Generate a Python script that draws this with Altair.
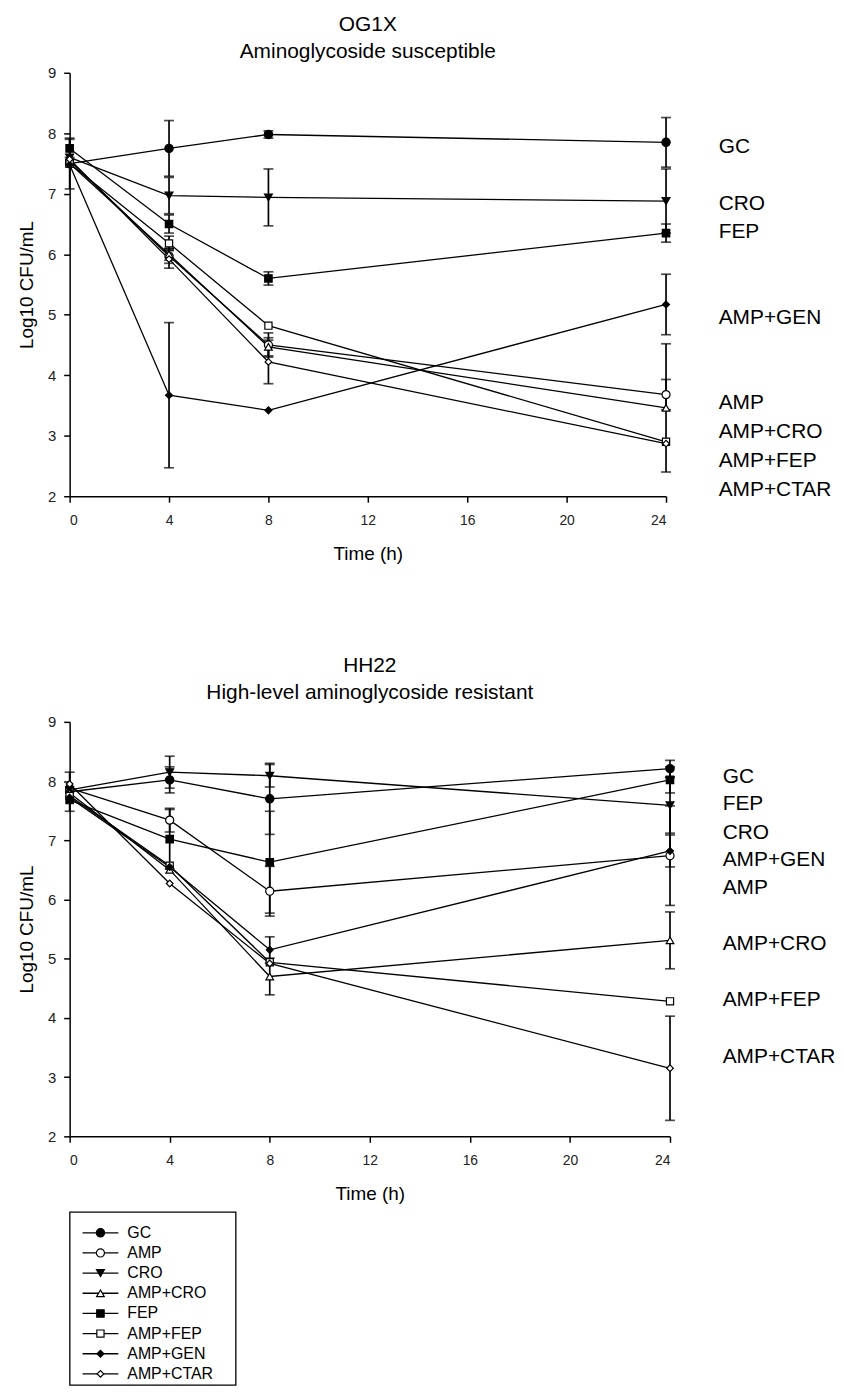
import altair as alt
import pandas as pd

FONT = "Liberation Sans"

times = [0, 4, 8, 24]
series_names = ["GC", "AMP", "CRO", "AMP+CRO", "FEP", "AMP+FEP", "AMP+GEN", "AMP+CTAR"]

# ---- OG1X (aminoglycoside susceptible) : log10 CFU/mL at 0, 4, 8, 24 h ----
og1x_gc = [7.50, 7.75, 7.98, 7.85]
og1x_gc_err = [0.42, 0.46, 0.06, 0.41]
og1x_amp = [7.55, 5.97, 4.50, 3.68]
og1x_amp_err = [0.0, 0.12, 0.20, 0.25]
og1x_cro = [7.60, 6.97, 6.94, 6.88]
og1x_cro_err = [0.0, 0.30, 0.47, 0.53]
og1x_ampcro = [7.50, 6.00, 4.47, 3.46]
og1x_ampcro_err = [0.0, 0.10, 0.15, 1.06]
og1x_fep = [7.75, 6.50, 5.60, 6.35]
og1x_fep_err = [0.15, 0.15, 0.11, 0.15]
og1x_ampfep = [7.50, 6.18, 4.82, 2.90]
og1x_ampfep_err = [0.0, 0.12, 0.0, 0.0]
og1x_ampgen = [7.48, 3.67, 3.42, 5.17]
og1x_ampgen_err = [0.0, 1.20, 0.0, 0.50]
og1x_ampctar = [7.57, 5.92, 4.22, 2.87]
og1x_ampctar_err = [0.0, 0.15, 0.36, 0.0]

# ---- HH22 (high-level aminoglycoside resistant) ----
hh22_gc = [7.82, 8.02, 7.70, 8.21]
hh22_gc_err = [0.33, 0.22, 0.60, 0.14]
hh22_amp = [7.88, 7.34, 6.14, 6.74]
hh22_amp_err = [0.0, 0.20, 0.42, 0.84]
hh22_cro = [7.85, 8.15, 8.09, 7.59]
hh22_cro_err = [0.0, 0.27, 0.19, 0.47]
hh22_ampcro = [7.80, 6.50, 4.70, 5.31]
hh22_ampcro_err = [0.0, 0.0, 0.31, 0.48]
hh22_fep = [7.68, 7.02, 6.63, 8.02]
hh22_fep_err = [0.0, 0.50, 0.86, 0.22]
hh22_ampfep = [7.75, 6.57, 4.94, 4.28]
hh22_ampfep_err = [0.0, 0.0, 0.0, 0.0]
hh22_ampgen = [7.72, 6.55, 5.15, 6.82]
hh22_ampgen_err = [0.0, 0.0, 0.22, 0.27]
hh22_ampctar = [7.95, 6.27, 4.92, 3.15]
hh22_ampctar_err = [0.0, 0.0, 0.0, 0.88]

# right-hand series labels (order and vertical position in log10 units)
og1x_label_order = ["GC", "CRO", "FEP", "AMP+GEN", "AMP", "AMP+CRO", "AMP+FEP", "AMP+CTAR"]
og1x_label_pos = [7.78, 6.83, 6.36, 4.94, 3.54, 3.06, 2.585, 2.11]
hh22_label_order = ["GC", "FEP", "CRO", "AMP+GEN", "AMP", "AMP+CRO", "AMP+FEP", "AMP+CTAR"]
hh22_label_pos = [8.07, 7.61, 7.12, 6.66, 6.19, 5.24, 4.30, 3.34]

# marker styling
shape_range = ["circle", "circle", "triangle-down", "triangle-up", "square", "square", "diamond", "diamond"]
fill_range = ["black", "white", "black", "white", "black", "white", "black", "white"]
size_range = [70, 45, 85, 85, 105, 95, 200, 210]


def build_df(vals, errs):
    rows = []
    for name, v, e in zip(series_names, vals, errs):
        for t, vv, ee in zip(times, v, e):
            rows.append({"series": name, "time": t, "value": vv, "err": ee})
    return pd.DataFrame(rows)


og1x_df = build_df(
    [og1x_gc, og1x_amp, og1x_cro, og1x_ampcro, og1x_fep, og1x_ampfep, og1x_ampgen, og1x_ampctar],
    [og1x_gc_err, og1x_amp_err, og1x_cro_err, og1x_ampcro_err, og1x_fep_err, og1x_ampfep_err,
     og1x_ampgen_err, og1x_ampctar_err],
)
hh22_df = build_df(
    [hh22_gc, hh22_amp, hh22_cro, hh22_ampcro, hh22_fep, hh22_ampfep, hh22_ampgen, hh22_ampctar],
    [hh22_gc_err, hh22_amp_err, hh22_cro_err, hh22_ampcro_err, hh22_fep_err, hh22_ampfep_err,
     hh22_ampgen_err, hh22_ampctar_err],
)

shape_enc = alt.Shape("series:N", scale=alt.Scale(domain=series_names, range=shape_range), legend=None)
fill_enc = alt.Fill("series:N", scale=alt.Scale(domain=series_names, range=fill_range), legend=None)
size_enc = alt.Size("series:N", scale=alt.Scale(domain=series_names, range=size_range), legend=None)

Y_TITLE = "Log10 CFU/mL"


def panel(df, label_order, label_pos, title, subtitle, width, height, title_offset):
    x = alt.X("time:Q", scale=alt.Scale(domain=[0, 24], nice=False, zero=False),
              axis=alt.Axis(values=[0, 4, 8, 12, 16, 20, 24], title="Time (h)"))
    y = alt.Y("value:Q", scale=alt.Scale(domain=[2, 9], nice=False, zero=False),
              axis=alt.Axis(values=list(range(2, 10)), format="d", title=Y_TITLE))
    base = alt.Chart(df)
    lines = base.mark_line(color="black", strokeWidth=1.3).encode(
        x=x, y=y, detail="series:N", order="time:Q")
    errd = base.transform_filter("datum.err > 0").transform_calculate(
        lo="datum.value - datum.err", hi="datum.value + datum.err")
    bars = errd.mark_rule(color="black", strokeWidth=1.7).encode(
        x="time:Q", y="lo:Q", y2="hi:Q")
    cap_lo = errd.mark_tick(color="black", thickness=1.7, size=10, orient="horizontal").encode(
        x="time:Q", y="lo:Q")
    cap_hi = errd.mark_tick(color="black", thickness=1.7, size=10, orient="horizontal").encode(
        x="time:Q", y="hi:Q")
    pts = base.mark_point(filled=True, opacity=1, stroke="black", strokeWidth=1.2).encode(
        x="time:Q", y="value:Q", shape=shape_enc, fill=fill_enc, size=size_enc)
    lab_df = pd.DataFrame({"label": label_order, "pos": label_pos, "time": [24] * len(label_order)})
    labels = alt.Chart(lab_df).mark_text(align="left", baseline="middle", dx=53, fontSize=21,
                                         font=FONT, color="black").encode(
        x="time:Q", y="pos:Q", text="label:N")
    return alt.layer(lines, bars, cap_lo, cap_hi, pts, labels).properties(
        width=width, height=height,
        title=alt.TitleParams(text=title, subtitle=subtitle, fontSize=21, subtitleFontSize=21,
                              font=FONT, subtitleFont=FONT, fontWeight="normal",
                              color="black", subtitleColor="black", anchor="middle",
                              subtitlePadding=6, offset=title_offset),
    )


top = panel(og1x_df, og1x_label_order, og1x_label_pos, "OG1X", "Aminoglycoside susceptible", 600, 426, 4)
bottom = panel(hh22_df, hh22_label_order, hh22_label_pos, "HH22", "High-level aminoglycoside resistant",
               604, 417, 12)

# ---- custom legend box ----
leg_df = pd.DataFrame({"series": series_names})
leg_y = alt.Y("series:N", scale=alt.Scale(type="point", domain=series_names, range=[21, 163], padding=0),
              axis=alt.Axis(labels=False, ticks=False, domain=False, title=Y_TITLE, titleOpacity=0))
leg_base = alt.Chart(leg_df)
leg_rule = leg_base.mark_rule(color="black", strokeWidth=1.3).encode(
    x=alt.value(13), x2=alt.value(49), y=leg_y)
leg_pts = leg_base.mark_point(filled=True, opacity=1, stroke="black", strokeWidth=1.2).encode(
    x=alt.value(31), y=alt.Y("series:N"), shape=shape_enc, fill=fill_enc, size=size_enc)
leg_txt = leg_base.mark_text(align="left", baseline="middle", fontSize=16, font=FONT, color="black").encode(
    x=alt.value(58), y=alt.Y("series:N"), text="series:N")
legend = alt.layer(leg_rule, leg_pts, leg_txt).properties(
    width=167, height=174, view=alt.ViewBackground(stroke="black", strokeWidth=1.3))

chart = alt.vconcat(
    alt.vconcat(top, bottom, spacing=92),
    legend,
    spacing=7,
).properties(
    padding={"left": 9, "top": 2, "right": 0, "bottom": 0},
).configure_view(stroke=None).configure_axis(
    domainColor="black", domainWidth=1.5, tickColor="black", tickWidth=1.5, tickSize=6,
    labelFont=FONT, labelFontSize=14, labelColor="#222", titleFont=FONT, titleFontSize=19,
    titleFontWeight="normal", titleColor="black", grid=False,
).configure_axisX(labelPadding=11, titlePadding=18).configure_axisY(
    labelPadding=8, labelFontSize=15, titlePadding=11, minExtent=22, maxExtent=22)

chart.save("out.html", embed_options={"renderer": "svg", "actions": False})
